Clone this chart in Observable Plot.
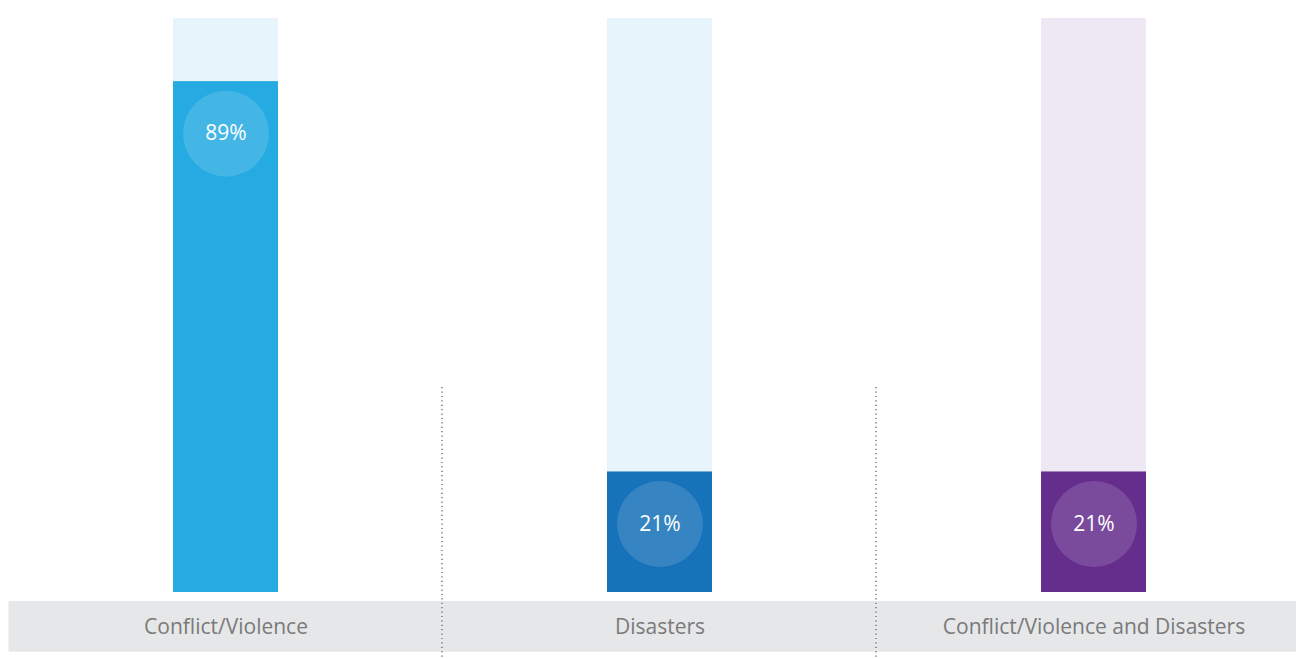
<!DOCTYPE html>
<html>
<head>
<meta charset="utf-8">
<script src="https://cdn.jsdelivr.net/npm/d3@7"></script>
<script src="https://cdn.jsdelivr.net/npm/@observablehq/plot@0.6"></script>
<style>
  html, body { margin: 0; padding: 0; background: #fff; overflow: hidden; }
  #chart svg { display: block; }
</style>
</head>
<body>
<div id="chart"></div>
<script>
// ---- data ----
const categories = ["Conflict/Violence", "Disasters", "Conflict/Violence and Disasters"];
const values = [89, 21, 21];           // percent shown
const trackValues = [100, 100, 100];   // full-height background track
const labels = ["89%", "21%", "21%"];

// ---- styles ----
const barColors = ["#25AAE1", "#1672B9", "#652D8C"];
const trackColors = ["#E8F4FB", "#E8F4FB", "#EEE8F4"];

const rows = categories.map((c, i) => ({category: c, value: values[i], track: trackValues[i], label: labels[i]}));
const W = 1296, H = 659;
const mL = 9, mR = -15;
const step = (W - mR - mL) / categories.length;
const bw = 105;
const pin = 1 - bw / step;
const halfGap = (step - bw) / 2;

const marks = [];
// grey category band
marks.push(Plot.barY(rows, {x: "category", y1: -1.55, y2: -10.4, fill: "#E6E7E8",
  insetLeft: -halfGap, insetRight: -halfGap}));
// background tracks and value bars
categories.forEach((c, i) => {
  const sub = rows.filter(d => d.category === c);
  marks.push(Plot.barY(sub, {x: "category", y: "track", fill: trackColors[i]}));
  marks.push(Plot.barY(sub, {x: "category", y: "value", fill: barColors[i]}));
});
// circles and value labels
marks.push(Plot.dot(rows, {x: "category", y: "value", dy: 52, r: 43, fill: "white", fillOpacity: 0.14, stroke: "none"}));
marks.push(Plot.text(rows, {x: "category", y: "value", dy: 52, text: "label", fill: "white",
  fontSize: 21, fontFamily: "Open Sans, sans-serif"}));
// category labels
marks.push(Plot.text(rows, {x: "category", y: -6, text: "category", fill: "#7a7a7a",
  fontSize: 21, fontFamily: "Open Sans, sans-serif"}));
// dotted separators
marks.push(Plot.ruleX(rows.slice(0, categories.length - 1), {x: "category", y1: 35.7, y2: -11.8,
  dx: step / 2 - 1, stroke: "#555", strokeWidth: 1.2, strokeDasharray: "1.2,3.2"}));

const chart = Plot.plot({
  width: W,
  height: H,
  marginTop: 18,
  marginBottom: 67,
  marginLeft: mL,
  marginRight: mR,
  x: {domain: categories, paddingInner: pin, paddingOuter: pin / 2, axis: null},
  y: {domain: [0, 100], axis: null},
  style: {fontFamily: "Open Sans, sans-serif", background: "white"},
  marks
});
document.getElementById("chart").appendChild(chart);
</script>
</body>
</html>
